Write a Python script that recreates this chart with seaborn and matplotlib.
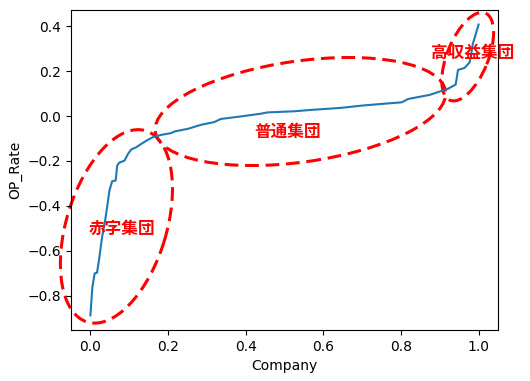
import numpy as np
import matplotlib
matplotlib.use("Agg")
import matplotlib.pyplot as plt
import seaborn as sns
from matplotlib.patches import Ellipse
from matplotlib.transforms import ScaledTranslation

plt.rcParams['font.family'] = ['DejaVu Sans', 'Noto Sans CJK JP']

# sorted operating-profit rate, x = rank share of companies
company = [0.000, 0.005, 0.011, 0.017, 0.022, 0.030, 0.038, 0.043, 0.049, 0.056,
           0.065, 0.069, 0.074, 0.088, 0.097, 0.105, 0.118, 0.131, 0.148, 0.161,
           0.182, 0.208, 0.216, 0.251, 0.285, 0.319, 0.336, 0.387, 0.438, 0.456,
           0.524, 0.575, 0.644, 0.703, 0.802, 0.819, 0.874, 0.900, 0.921, 0.941,
           0.947, 0.964, 0.977, 0.981, 0.985, 1.000]
op_rate = [-0.887, -0.761, -0.700, -0.697, -0.642, -0.539, -0.464, -0.405, -0.331, -0.290,
           -0.287, -0.220, -0.208, -0.198, -0.168, -0.149, -0.139, -0.124, -0.106, -0.094,
           -0.084, -0.076, -0.069, -0.057, -0.039, -0.027, -0.013, -0.002, 0.010, 0.016,
           0.021, 0.028, 0.036, 0.047, 0.061, 0.076, 0.094, 0.109, 0.121, 0.140,
           0.205, 0.214, 0.239, 0.276, 0.320, 0.407]

# group labels and the ellipses around them
groups = ['赤字集団', '普通集団', '高収益集団']
label_x = [0.081, 0.509, 0.985]
label_y = [-0.50, -0.069, 0.282]
ell_x = [0.067, 0.541, 0.972]
ell_y = [-0.491, 0.020, 0.264]
ell_w = [200, 293, 94]
ell_h = [100, 101, 41]
ell_angle = [73, 8, 68]

fig, ax = plt.subplots(figsize=(5.3, 3.81), dpi=100)
fig.subplots_adjust(left=0.134, right=0.9396, top=0.9738, bottom=0.134)

sns.lineplot(x=company, y=op_rate, ax=ax, linewidth=1.5)
ax.set_xlabel('Company')
ax.set_ylabel('OP_Rate')

for i in range(len(groups)):
    e = Ellipse((0, 0), ell_w[i], ell_h[i], angle=ell_angle[i], fill=False,
                edgecolor='red', linestyle=(0, (4.5, 2.2)), linewidth=2.2,
                transform=ScaledTranslation(ell_x[i], ell_y[i], ax.transData),
                clip_on=False)
    ax.add_patch(e)
    ax.text(label_x[i], label_y[i], groups[i], color='red', fontsize=12,
            fontweight='bold', ha='center', va='center',
            family=['Noto Sans CJK JP'], clip_on=False)

fig.savefig('out.png', dpi=100)
